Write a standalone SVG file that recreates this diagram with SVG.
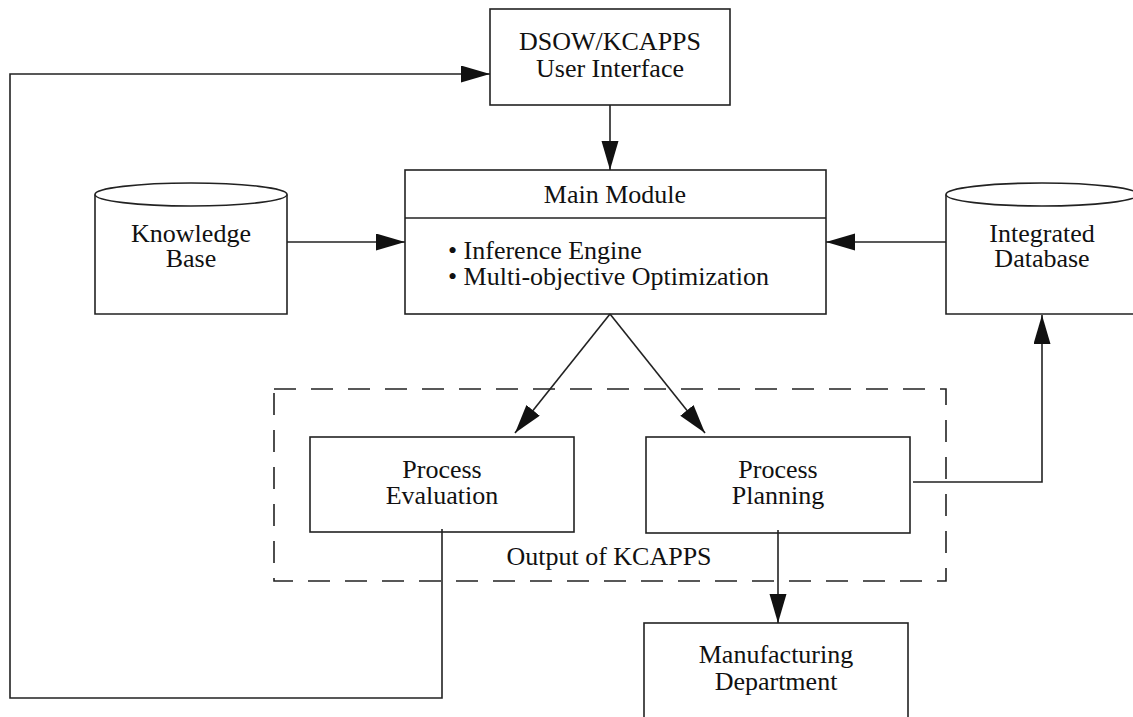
<svg xmlns="http://www.w3.org/2000/svg" width="1133" height="717" viewBox="0 0 1133 717">
  <style>
    .box { fill: #fff; stroke: #222; stroke-width: 1.6; }
    .line { fill: none; stroke: #222; stroke-width: 1.6; }
    .dash { fill: none; stroke: #222; stroke-width: 1.6; stroke-dasharray: 22 15; }
    .lbl { font-family: "Liberation Serif", "Times New Roman", serif; font-size: 26px; fill: #111; }
    .c { text-anchor: middle; }
  </style>
  <defs>
    <marker id="arrow" markerUnits="userSpaceOnUse" markerWidth="30" markerHeight="18" refX="29" refY="8.5" orient="auto">
      <path d="M0,0 L29,8.5 L0,17 Z" fill="#111"/>
    </marker>
  </defs>

  <rect width="1133" height="717" fill="#fff"/>

  <!-- output group boundary -->
  <g id="output-group">
    <rect class="dash" x="274" y="389" width="672" height="192"/>
    <text class="lbl c" x="609" y="565">Output of KCAPPS</text>
  </g>

  <g id="user-interface">
    <rect class="box" x="490" y="9" width="240" height="96"/>
    <text class="lbl c" x="610" y="50">DSOW/KCAPPS</text>
    <text class="lbl c" x="610" y="77">User Interface</text>
  </g>

  <g id="main-module">
    <rect class="box" x="405" y="170" width="421" height="144"/>
    <line class="line" x1="405" y1="218" x2="826" y2="218"/>
    <text class="lbl c" x="615" y="203">Main Module</text>
    <text class="lbl" x="448" y="259">• Inference Engine</text>
    <text class="lbl" x="448" y="285">• Multi-objective Optimization</text>
  </g>

  <g id="knowledge-base">
    <path class="box" d="M95,194.5 L95,314 L287,314 L287,194.5"/>
    <ellipse class="box" cx="191" cy="194.5" rx="96" ry="11.5"/>
    <text class="lbl c" x="191" y="242">Knowledge</text>
    <text class="lbl c" x="191" y="267">Base</text>
  </g>

  <g id="integrated-database">
    <path class="box" d="M946,194.5 L946,314 L1138,314 L1138,194.5"/>
    <ellipse class="box" cx="1042" cy="194.5" rx="96" ry="11.5"/>
    <text class="lbl c" x="1042" y="242">Integrated</text>
    <text class="lbl c" x="1042" y="267">Database</text>
  </g>

  <g id="process-evaluation">
    <rect class="box" x="310" y="437" width="264" height="95"/>
    <text class="lbl c" x="442" y="478">Process</text>
    <text class="lbl c" x="442" y="504">Evaluation</text>
  </g>

  <g id="process-planning">
    <rect class="box" x="646" y="437" width="264" height="96"/>
    <text class="lbl c" x="778" y="478">Process</text>
    <text class="lbl c" x="778" y="504">Planning</text>
  </g>

  <g id="manufacturing-department">
    <rect class="box" x="644" y="623" width="264" height="110"/>
    <text class="lbl c" x="776" y="663">Manufacturing</text>
    <text class="lbl c" x="776" y="690">Department</text>
  </g>

  <g id="connectors">
    <line class="line" x1="610" y1="105" x2="610" y2="170" marker-end="url(#arrow)"/>
    <line class="line" x1="287" y1="242" x2="405" y2="242" marker-end="url(#arrow)"/>
    <line class="line" x1="946" y1="242" x2="826" y2="242" marker-end="url(#arrow)"/>
    <line class="line" x1="610" y1="314" x2="515" y2="433" marker-end="url(#arrow)"/>
    <line class="line" x1="610" y1="314" x2="705" y2="433" marker-end="url(#arrow)"/>
    <polyline class="line" points="913,482 1042,482 1042,315" marker-end="url(#arrow)"/>
    <line class="line" x1="778" y1="530" x2="778" y2="623" marker-end="url(#arrow)"/>
    <polyline class="line" points="442,529 442,698 10,698 10,74 490,74" marker-end="url(#arrow)"/>
  </g>
</svg>
